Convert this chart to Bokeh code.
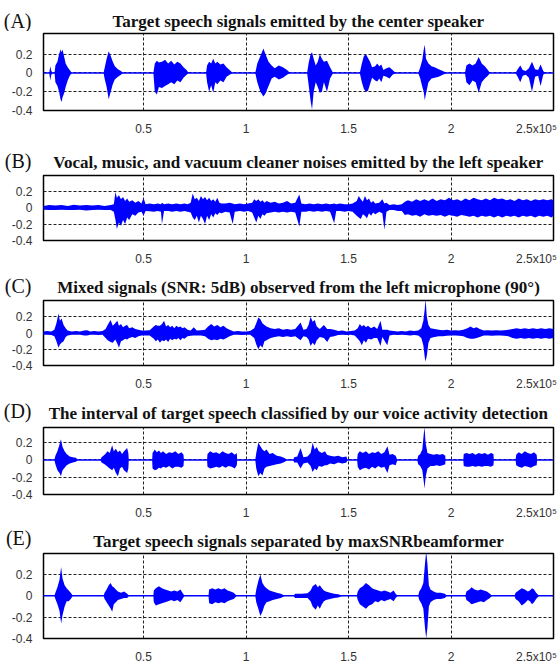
from bokeh.plotting import figure
from bokeh.layouts import column
from bokeh.models import Range1d, FixedTicker, CustomJSTickFormatter
from bokeh.core.properties import value
from bokeh.embed import file_html
from bokeh.resources import INLINE

# ---------------- data (x in units of 1e5 samples) ----------------
x_ticks = [0.5, 1, 1.5, 2]
y_ticks = [-0.4, -0.2, 0, 0.2]
x_end_label = "2.5x10\u2075"
baseline_x = [0.0, 2.5]
baseline_y = [0.0, 0.0]

panel_letters = ["(A)", "(B)", "(C)", "(D)", "(E)"]
panel_titles = [
    "Target speech signals emitted by the center speaker",
    "Vocal, music, and vacuum cleaner noises emitted by the left speaker",
    "Mixed signals (SNR: 5dB) observed from the left microphone (90\u00b0)",
    "The interval of target speech classified by our voice activity detection",
    "Target speech signals separated by maxSNRbeamformer",
]

# (A) target speech: envelope upper / lower values
A_x = [0.040, 0.045, 0.050, 0.058,
       0.066, 0.070, 0.080, 0.088, 0.095, 0.100, 0.105, 0.112, 0.120, 0.130, 0.140, 0.150,
       0.305, 0.310, 0.320, 0.330, 0.340, 0.350, 0.360, 0.375, 0.390, 0.400,
       0.548, 0.555, 0.565, 0.575, 0.590, 0.605, 0.620, 0.635, 0.650, 0.665, 0.680, 0.695, 0.710, 0.720,
       0.805, 0.810, 0.820, 0.830, 0.840, 0.850, 0.860, 0.875, 0.890, 0.905, 0.920, 0.935,
       1.045, 1.055, 1.070, 1.085, 1.095, 1.110, 1.125, 1.140, 1.160, 1.180, 1.200, 1.215,
       1.298, 1.305, 1.315, 1.322, 1.330, 1.340, 1.350, 1.360, 1.370, 1.380, 1.395, 1.410, 1.425,
       1.555, 1.565, 1.575, 1.585, 1.595, 1.605, 1.615, 1.630, 1.640, 1.650, 1.660, 1.670, 1.685, 1.700, 1.715, 1.730,
       1.840, 1.850, 1.860, 1.867, 1.872, 1.878, 1.890, 1.905, 1.920, 1.940, 1.960, 1.980,
       2.068, 2.075, 2.090, 2.105, 2.120, 2.135, 2.150, 2.165, 2.180, 2.190,
       2.315, 2.325, 2.338, 2.350, 2.365, 2.380, 2.395, 2.410, 2.425, 2.437, 2.450, 2.460]
A_hi = [0, 0.07, 0.02, 0,
        0, 0.08, 0.12, 0.20, 0.25, 0.22, 0.25, 0.18, 0.10, 0.06, 0.03, 0,
        0, 0.05, 0.15, 0.23, 0.18, 0.12, 0.07, 0.04, 0.02, 0,
        0, 0.10, 0.13, 0.11, 0.12, 0.14, 0.10, 0.13, 0.09, 0.12, 0.10, 0.06, 0.03, 0,
        0, 0.08, 0.12, 0.10, 0.15, 0.10, 0.12, 0.09, 0.10, 0.06, 0.03, 0,
        0, 0.10, 0.18, 0.26, 0.20, 0.12, 0.08, 0.05, 0.08, 0.06, 0.03, 0,
        0, 0.10, 0.20, 0.22, 0.15, 0.08, 0.12, 0.20, 0.15, 0.12, 0.13, 0.06, 0,
        0, 0.10, 0.18, 0.20, 0.16, 0.12, 0.06, 0.07, 0.10, 0.07, 0.09, 0.03, 0.05, 0.06, 0.03, 0,
        0, 0.06, 0.14, 0.25, 0.30, 0.15, 0.10, 0.07, 0.06, 0.04, 0.02, 0,
        0, 0.08, 0.10, 0.08, 0.10, 0.17, 0.10, 0.07, 0.03, 0,
        0, 0.04, 0.08, 0.03, 0.02, 0.05, 0.12, 0.04, 0.03, 0.09, 0.02, 0]
A_lo = [0, -0.08, -0.02, 0,
        0, -0.10, -0.14, -0.20, -0.28, -0.31, -0.26, -0.22, -0.15, -0.08, -0.03, 0,
        0, -0.06, -0.15, -0.28, -0.20, -0.12, -0.07, -0.04, -0.02, 0,
        0, -0.20, -0.23, -0.15, -0.16, -0.14, -0.12, -0.10, -0.12, -0.08, -0.10, -0.05, -0.02, 0,
        0, -0.10, -0.20, -0.13, -0.21, -0.10, -0.12, -0.08, -0.10, -0.04, -0.02, 0,
        0, -0.10, -0.20, -0.25, -0.22, -0.14, -0.06, -0.04, -0.07, -0.05, -0.02, 0,
        0, -0.12, -0.30, -0.39, -0.20, -0.10, -0.15, -0.21, -0.20, -0.10, -0.20, -0.06, 0,
        0, -0.10, -0.17, -0.20, -0.19, -0.12, -0.05, -0.08, -0.09, -0.06, -0.10, -0.03, -0.04, -0.06, -0.02, 0,
        0, -0.06, -0.15, -0.20, -0.29, -0.22, -0.10, -0.06, -0.05, -0.04, -0.02, 0,
        0, -0.10, -0.13, -0.08, -0.10, -0.21, -0.10, -0.06, -0.03, 0,
        0, -0.04, -0.10, -0.03, -0.02, -0.05, -0.20, -0.04, -0.03, -0.14, -0.02, 0]

# (B) noise from left speaker
B_x = [0.012, 0.040, 0.070, 0.100, 0.130, 0.160, 0.190, 0.220, 0.250, 0.280,
       0.310, 0.340, 0.355, 0.363, 0.370, 0.380, 0.390, 0.400, 0.410, 0.420,
       0.430, 0.445, 0.460, 0.475, 0.490, 0.500, 0.510, 0.530, 0.550, 0.570,
       0.585, 0.590, 0.600, 0.620, 0.640, 0.660, 0.680, 0.700, 0.715, 0.730,
       0.740, 0.750, 0.760, 0.770, 0.780, 0.790, 0.800, 0.810, 0.820, 0.830,
       0.840, 0.850, 0.860, 0.870, 0.880, 0.900, 0.920, 0.935, 0.945, 0.970,
       0.990, 1.010, 1.030, 1.040, 1.050, 1.060, 1.070, 1.080, 1.090, 1.100,
       1.120, 1.140, 1.160, 1.180, 1.200, 1.220, 1.240, 1.260, 1.270, 1.290,
       1.310, 1.330, 1.350, 1.370, 1.390, 1.410, 1.430, 1.440, 1.460, 1.480,
       1.500, 1.520, 1.540, 1.550, 1.560, 1.570, 1.580, 1.590, 1.600, 1.610,
       1.620, 1.630, 1.650, 1.665, 1.675, 1.685, 1.700, 1.720, 1.740, 1.760,
       1.775, 1.790, 1.810, 1.830, 1.850, 1.870, 1.890, 1.910, 1.930, 1.950,
       1.970, 1.990, 2.010, 2.030, 2.050, 2.070, 2.090, 2.110, 2.130, 2.150,
       2.170, 2.190, 2.210, 2.230, 2.250, 2.270, 2.290, 2.310, 2.330, 2.350,
       2.370, 2.390, 2.410, 2.430, 2.450, 2.470, 2.490, 2.500]
B_hi = [0.020, 0.030, 0.025, 0.030, 0.020, 0.035, 0.025, 0.030, 0.025, 0.030,
        0.020, 0.030, 0.040, 0.190, 0.120, 0.150, 0.100, 0.130, 0.080, 0.110,
        0.070, 0.090, 0.060, 0.080, 0.050, 0.120, 0.040, 0.050, 0.040, 0.050,
        0.040, 0.060, 0.040, 0.050, 0.040, 0.050, 0.040, 0.050, 0.040, 0.060,
        0.170, 0.100, 0.120, 0.080, 0.140, 0.100, 0.130, 0.090, 0.120, 0.080,
        0.100, 0.070, 0.120, 0.060, 0.050, 0.050, 0.060, 0.050, 0.040, 0.050,
        0.040, 0.050, 0.060, 0.100, 0.080, 0.100, 0.070, 0.090, 0.060, 0.080,
        0.060, 0.070, 0.050, 0.060, 0.080, 0.050, 0.060, 0.160, 0.050, 0.040,
        0.050, 0.040, 0.050, 0.040, 0.050, 0.040, 0.050, 0.040, 0.050, 0.040,
        0.040, 0.050, 0.080, 0.140, 0.100, 0.070, 0.140, 0.090, 0.110, 0.060,
        0.080, 0.050, 0.060, 0.100, 0.050, 0.060, 0.030, 0.040, 0.030, 0.040,
        0.070, 0.090, 0.070, 0.100, 0.080, 0.100, 0.080, 0.110, 0.080, 0.100,
        0.090, 0.120, 0.090, 0.100, 0.080, 0.110, 0.090, 0.120, 0.100, 0.090,
        0.110, 0.090, 0.120, 0.100, 0.110, 0.090, 0.100, 0.080, 0.110, 0.090,
        0.100, 0.080, 0.100, 0.090, 0.100, 0.090, 0.100, 0.090]
B_lo = [-0.025, -0.030, -0.030, -0.025, -0.030, -0.030, -0.025, -0.035, -0.030, -0.025,
        -0.030, -0.030, -0.050, -0.150, -0.260, -0.180, -0.220, -0.150, -0.200, -0.120,
        -0.150, -0.080, -0.100, -0.060, -0.050, -0.100, -0.040, -0.045, -0.050, -0.040,
        -0.050, -0.200, -0.040, -0.040, -0.050, -0.040, -0.050, -0.040, -0.050, -0.060,
        -0.120, -0.150, -0.100, -0.180, -0.100, -0.140, -0.200, -0.100, -0.150, -0.080,
        -0.120, -0.070, -0.090, -0.060, -0.070, -0.050, -0.060, -0.200, -0.050, -0.040,
        -0.050, -0.040, -0.060, -0.120, -0.180, -0.100, -0.140, -0.080, -0.100, -0.070,
        -0.060, -0.050, -0.060, -0.050, -0.060, -0.050, -0.060, -0.230, -0.050, -0.050,
        -0.040, -0.050, -0.040, -0.050, -0.040, -0.050, -0.190, -0.040, -0.040, -0.050,
        -0.040, -0.050, -0.100, -0.120, -0.140, -0.080, -0.100, -0.130, -0.070, -0.100,
        -0.060, -0.080, -0.050, -0.070, -0.270, -0.050, -0.030, -0.030, -0.040, -0.040,
        -0.090, -0.080, -0.100, -0.090, -0.110, -0.080, -0.100, -0.090, -0.100, -0.090,
        -0.110, -0.090, -0.100, -0.110, -0.090, -0.100, -0.110, -0.100, -0.120, -0.100,
        -0.110, -0.100, -0.120, -0.100, -0.120, -0.100, -0.110, -0.100, -0.120, -0.100,
        -0.110, -0.100, -0.120, -0.100, -0.110, -0.100, -0.120, -0.100]

# (C) mixed signal at the left microphone
C_x = [0.012, 0.030, 0.050, 0.065, 0.075, 0.085, 0.092, 0.100, 0.110, 0.120,
       0.130, 0.150, 0.170, 0.190, 0.210, 0.225, 0.240, 0.260, 0.280, 0.300,
       0.315, 0.325, 0.339, 0.350, 0.362, 0.372, 0.380, 0.390, 0.400, 0.410,
       0.420, 0.430, 0.445, 0.460, 0.475, 0.490, 0.510, 0.530, 0.550, 0.560,
       0.570, 0.580, 0.590, 0.600, 0.610, 0.620, 0.630, 0.640, 0.650, 0.660,
       0.670, 0.680, 0.690, 0.700, 0.715, 0.730, 0.745, 0.760, 0.780, 0.800,
       0.815, 0.830, 0.845, 0.860, 0.875, 0.890, 0.905, 0.920, 0.940, 0.960,
       0.980, 1.000, 1.020, 1.040, 1.050, 1.060, 1.070, 1.080, 1.090, 1.100,
       1.120, 1.140, 1.160, 1.180, 1.200, 1.220, 1.240, 1.266, 1.280, 1.295,
       1.305, 1.315, 1.325, 1.335, 1.345, 1.360, 1.380, 1.396, 1.410, 1.430,
       1.450, 1.470, 1.490, 1.510, 1.530, 1.545, 1.555, 1.565, 1.575, 1.585,
       1.595, 1.610, 1.625, 1.640, 1.656, 1.665, 1.689, 1.700, 1.720, 1.740,
       1.760, 1.780, 1.800, 1.820, 1.840, 1.855, 1.865, 1.872, 1.876, 1.882,
       1.890, 1.900, 1.920, 1.940, 1.960, 1.980, 2.000, 2.020, 2.040, 2.060,
       2.080, 2.095, 2.110, 2.125, 2.140, 2.160, 2.180, 2.200, 2.220, 2.240,
       2.260, 2.280, 2.300, 2.320, 2.340, 2.360, 2.380, 2.400, 2.420, 2.440,
       2.460, 2.480, 2.500]
C_hi = [0.020, 0.025, 0.020, 0.040, 0.120, 0.240, 0.150, 0.180, 0.100, 0.060,
        0.030, 0.020, 0.025, 0.020, 0.030, 0.035, 0.020, 0.025, 0.020, 0.025,
        0.050, 0.100, 0.160, 0.090, 0.120, 0.150, 0.090, 0.110, 0.070, 0.090,
        0.100, 0.060, 0.070, 0.050, 0.040, 0.030, 0.030, 0.035, 0.080, 0.100,
        0.090, 0.090, 0.110, 0.150, 0.080, 0.100, 0.070, 0.090, 0.060, 0.090,
        0.070, 0.080, 0.060, 0.070, 0.040, 0.030, 0.070, 0.030, 0.035, 0.040,
        0.080, 0.110, 0.080, 0.100, 0.070, 0.090, 0.060, 0.040, 0.020, 0.025,
        0.020, 0.020, 0.025, 0.060, 0.120, 0.190, 0.170, 0.120, 0.100, 0.080,
        0.060, 0.050, 0.060, 0.040, 0.050, 0.040, 0.050, 0.130, 0.040, 0.050,
        0.100, 0.200, 0.140, 0.160, 0.080, 0.050, 0.100, 0.050, 0.050, 0.040,
        0.025, 0.030, 0.020, 0.025, 0.030, 0.060, 0.110, 0.080, 0.100, 0.070,
        0.090, 0.060, 0.080, 0.050, 0.150, 0.040, 0.040, 0.030, 0.025, 0.020,
        0.025, 0.020, 0.030, 0.025, 0.030, 0.060, 0.150, 0.300, 0.420, 0.200,
        0.100, 0.060, 0.050, 0.040, 0.035, 0.040, 0.030, 0.035, 0.030, 0.040,
        0.060, 0.080, 0.060, 0.070, 0.050, 0.030, 0.035, 0.030, 0.035, 0.030,
        0.035, 0.040, 0.050, 0.060, 0.050, 0.060, 0.050, 0.060, 0.050, 0.060,
        0.050, 0.060, 0.050]
C_lo = [-0.020, -0.020, -0.025, -0.040, -0.100, -0.180, -0.140, -0.120, -0.100, -0.050,
        -0.030, -0.020, -0.020, -0.020, -0.030, -0.030, -0.020, -0.020, -0.025, -0.020,
        -0.060, -0.090, -0.110, -0.120, -0.080, -0.130, -0.180, -0.100, -0.090, -0.070,
        -0.080, -0.060, -0.050, -0.060, -0.040, -0.030, -0.030, -0.030, -0.070, -0.100,
        -0.080, -0.120, -0.090, -0.100, -0.080, -0.110, -0.070, -0.090, -0.070, -0.080,
        -0.060, -0.090, -0.060, -0.070, -0.040, -0.035, -0.030, -0.030, -0.030, -0.040,
        -0.070, -0.090, -0.080, -0.090, -0.070, -0.080, -0.060, -0.040, -0.020, -0.020,
        -0.025, -0.020, -0.020, -0.060, -0.140, -0.200, -0.150, -0.180, -0.100, -0.090,
        -0.060, -0.050, -0.040, -0.050, -0.040, -0.050, -0.040, -0.090, -0.040, -0.050,
        -0.080, -0.160, -0.120, -0.150, -0.090, -0.050, -0.060, -0.110, -0.050, -0.040,
        -0.025, -0.020, -0.025, -0.020, -0.030, -0.070, -0.100, -0.150, -0.090, -0.120,
        -0.070, -0.080, -0.060, -0.060, -0.160, -0.050, -0.150, -0.030, -0.020, -0.025,
        -0.020, -0.025, -0.030, -0.025, -0.030, -0.060, -0.150, -0.300, -0.350, -0.280,
        -0.120, -0.060, -0.050, -0.040, -0.040, -0.035, -0.030, -0.030, -0.035, -0.040,
        -0.060, -0.070, -0.070, -0.060, -0.050, -0.030, -0.030, -0.035, -0.030, -0.030,
        -0.035, -0.040, -0.060, -0.070, -0.060, -0.070, -0.060, -0.070, -0.060, -0.070,
        -0.060, -0.070, -0.060]

# (D) target speech intervals from voice activity detection
D_x = [0.065, 0.070, 0.080, 0.090, 0.097, 0.105, 0.115, 0.125, 0.140, 0.155, 0.170, 0.180,
       0.290, 0.295, 0.310, 0.325, 0.335, 0.347, 0.355, 0.365, 0.375, 0.385, 0.395, 0.405, 0.420, 0.426, 0.428,
       0.542, 0.544, 0.555, 0.565, 0.575, 0.585, 0.595, 0.610, 0.625, 0.640, 0.655, 0.670, 0.685, 0.695, 0.697,
       0.810, 0.812, 0.825, 0.840, 0.855, 0.870, 0.885, 0.900, 0.915, 0.930, 0.945, 0.955, 0.957,
       1.045, 1.050, 1.060, 1.070, 1.080, 1.090, 1.100, 1.115, 1.130, 1.150, 1.170, 1.190, 1.200,
       1.230, 1.235, 1.250, 1.266, 1.280, 1.300, 1.315, 1.325, 1.335, 1.345, 1.355, 1.370, 1.385, 1.395, 1.410, 1.430, 1.450, 1.470, 1.490, 1.495,
       1.542, 1.545, 1.555, 1.570, 1.585, 1.600, 1.615, 1.630, 1.645, 1.660, 1.675, 1.690, 1.700, 1.715, 1.730, 1.738,
       1.835, 1.840, 1.850, 1.860, 1.867, 1.871, 1.876, 1.885, 1.900, 1.915, 1.930, 1.945, 1.960, 1.972, 1.973,
       2.060, 2.062, 2.075, 2.090, 2.105, 2.120, 2.135, 2.150, 2.165, 2.180, 2.195, 2.207, 2.209,
       2.315, 2.318, 2.330, 2.345, 2.360, 2.375, 2.390, 2.405, 2.418, 2.420]
D_hi = [0, 0.05, 0.10, 0.18, 0.24, 0.15, 0.10, 0.07, 0.04, 0.03, 0.025, 0,
        0, 0.03, 0.06, 0.10, 0.08, 0.17, 0.10, 0.13, 0.09, 0.11, 0.07, 0.10, 0.14, 0.08, 0,
        0, 0.08, 0.12, 0.09, 0.11, 0.08, 0.10, 0.07, 0.09, 0.08, 0.10, 0.07, 0.09, 0.06, 0,
        0, 0.07, 0.10, 0.08, 0.09, 0.07, 0.10, 0.08, 0.07, 0.09, 0.06, 0.08, 0,
        0, 0.08, 0.20, 0.16, 0.12, 0.10, 0.12, 0.07, 0.08, 0.05, 0.04, 0.02, 0,
        0, 0.03, 0.04, 0.14, 0.03, 0.04, 0.08, 0.20, 0.12, 0.15, 0.10, 0.08, 0.10, 0.06, 0.05, 0.04, 0.05, 0.03, 0.04, 0,
        0, 0.07, 0.10, 0.08, 0.10, 0.07, 0.09, 0.08, 0.10, 0.07, 0.09, 0.16, 0.06, 0.07, 0.05, 0,
        0, 0.05, 0.07, 0.12, 0.30, 0.38, 0.20, 0.08, 0.07, 0.06, 0.07, 0.06, 0.07, 0.05, 0,
        0, 0.07, 0.08, 0.07, 0.08, 0.06, 0.08, 0.07, 0.08, 0.06, 0.08, 0.07, 0,
        0, 0.06, 0.09, 0.07, 0.10, 0.08, 0.07, 0.09, 0.06, 0]
D_lo = [0, -0.05, -0.12, -0.15, -0.19, -0.12, -0.09, -0.06, -0.04, -0.03, -0.02, 0,
        0, -0.03, -0.05, -0.08, -0.10, -0.12, -0.09, -0.15, -0.19, -0.10, -0.08, -0.12, -0.15, -0.10, 0,
        0, -0.10, -0.12, -0.11, -0.09, -0.10, -0.08, -0.09, -0.07, -0.10, -0.08, -0.08, -0.09, -0.07, 0,
        0, -0.08, -0.10, -0.09, -0.08, -0.09, -0.07, -0.09, -0.07, -0.08, -0.10, -0.06, 0,
        0, -0.10, -0.19, -0.15, -0.18, -0.10, -0.08, -0.07, -0.06, -0.05, -0.04, -0.02, 0,
        0, -0.03, -0.03, -0.10, -0.04, -0.03, -0.07, -0.14, -0.10, -0.12, -0.07, -0.08, -0.06, -0.06, -0.04, -0.05, -0.03, -0.04, -0.03, 0,
        0, -0.08, -0.12, -0.10, -0.09, -0.11, -0.08, -0.10, -0.07, -0.09, -0.08, -0.15, -0.06, -0.05, -0.06, 0,
        0, -0.05, -0.07, -0.12, -0.25, -0.33, -0.20, -0.10, -0.07, -0.07, -0.06, -0.07, -0.06, -0.05, 0,
        0, -0.07, -0.08, -0.08, -0.07, -0.08, -0.07, -0.08, -0.07, -0.07, -0.08, -0.06, 0,
        0, -0.06, -0.08, -0.09, -0.07, -0.08, -0.09, -0.07, -0.06, 0]

# (E) separated target speech (maxSNR beamformer)
E_x = [0.065, 0.070, 0.080, 0.090, 0.098, 0.105, 0.115, 0.125, 0.135, 0.145, 0.155,
       0.305, 0.310, 0.320, 0.330, 0.340, 0.347, 0.355, 0.365, 0.375, 0.390, 0.405, 0.420, 0.430,
       0.548, 0.550, 0.560, 0.575, 0.590, 0.605, 0.620, 0.635, 0.650, 0.665, 0.680, 0.690, 0.700,
       0.817, 0.820, 0.835, 0.850, 0.865, 0.880, 0.895, 0.910, 0.925, 0.940, 0.955,
       1.045, 1.050, 1.060, 1.070, 1.080, 1.090, 1.100, 1.115, 1.130, 1.150, 1.170, 1.190,
       1.230, 1.240, 1.270, 1.300, 1.315, 1.325, 1.340, 1.350, 1.360, 1.370, 1.380, 1.390, 1.410, 1.430, 1.450, 1.470,
       1.540, 1.545, 1.555, 1.570, 1.585, 1.600, 1.615, 1.630, 1.645, 1.660, 1.675, 1.690, 1.705, 1.720, 1.730, 1.740,
       1.840, 1.845, 1.855, 1.865, 1.873, 1.879, 1.885, 1.892, 1.900, 1.915, 1.930, 1.950, 1.970, 1.980,
       2.070, 2.075, 2.090, 2.100, 2.115, 2.130, 2.145, 2.160, 2.175, 2.190, 2.200,
       2.310, 2.315, 2.330, 2.345, 2.360, 2.375, 2.385, 2.395, 2.405, 2.415, 2.430]
E_hi = [0, 0.03, 0.08, 0.15, 0.27, 0.16, 0.10, 0.07, 0.05, 0.03, 0,
        0, 0.03, 0.06, 0.10, 0.12, 0.09, 0.08, 0.06, 0.04, 0.03, 0.04, 0.02, 0,
        0, 0.05, 0.07, 0.09, 0.07, 0.06, 0.05, 0.04, 0.05, 0.04, 0.06, 0.03, 0,
        0, 0.06, 0.07, 0.06, 0.07, 0.06, 0.07, 0.05, 0.04, 0.03, 0,
        0, 0.06, 0.14, 0.20, 0.12, 0.09, 0.07, 0.05, 0.04, 0.03, 0.02, 0,
        0, 0.02, 0.02, 0.025, 0.05, 0.09, 0.11, 0.08, 0.10, 0.07, 0.05, 0.04, 0.03, 0.02, 0.015, 0,
        0, 0.04, 0.07, 0.09, 0.12, 0.10, 0.07, 0.06, 0.05, 0.04, 0.05, 0.04, 0.03, 0.05, 0.02, 0,
        0, 0.04, 0.07, 0.12, 0.30, 0.42, 0.30, 0.10, 0.06, 0.04, 0.03, 0.03, 0.02, 0,
        0, 0.04, 0.06, 0.08, 0.06, 0.05, 0.06, 0.05, 0.04, 0.02, 0,
        0, 0.03, 0.05, 0.07, 0.06, 0.04, 0.05, 0.07, 0.06, 0.03, 0]
E_lo = [0, -0.03, -0.08, -0.14, -0.26, -0.18, -0.10, -0.05, -0.05, -0.03, 0,
        0, -0.03, -0.06, -0.09, -0.12, -0.15, -0.08, -0.06, -0.04, -0.03, -0.02, -0.02, 0,
        0, -0.06, -0.09, -0.08, -0.07, -0.06, -0.05, -0.04, -0.05, -0.04, -0.06, -0.03, 0,
        0, -0.07, -0.08, -0.06, -0.07, -0.06, -0.07, -0.05, -0.04, -0.03, 0,
        0, -0.06, -0.12, -0.19, -0.15, -0.09, -0.06, -0.05, -0.04, -0.03, -0.02, 0,
        0, -0.02, -0.02, -0.02, -0.05, -0.10, -0.13, -0.09, -0.12, -0.08, -0.05, -0.04, -0.03, -0.02, -0.015, 0,
        0, -0.04, -0.08, -0.10, -0.12, -0.09, -0.08, -0.05, -0.06, -0.04, -0.05, -0.04, -0.03, -0.05, -0.02, 0,
        0, -0.04, -0.07, -0.12, -0.30, -0.40, -0.30, -0.10, -0.06, -0.04, -0.03, -0.03, -0.02, 0,
        0, -0.04, -0.06, -0.08, -0.07, -0.06, -0.05, -0.06, -0.04, -0.02, 0,
        0, -0.03, -0.05, -0.09, -0.07, -0.04, -0.05, -0.08, -0.06, -0.03, 0]

series = [(A_x, A_hi, A_lo), (B_x, B_hi, B_lo), (C_x, C_hi, C_lo),
          (D_x, D_hi, D_lo), (E_x, E_hi, E_lo)]
for name, (sx, sh, sl) in zip("ABCDE", series):
    assert len(sx) == len(sh) == len(sl), (name, len(sx), len(sh), len(sl))

# ---------------- layout (pixels) ----------------
# header height, letter y, title y (px from header top),
# plot height, plot bottom border, y-range top
layout_spec = [
    (31, 20, 21, 107, 20, 0.42),
    (35, 22, 24, 95, 20, 0.39),
    (30, 17, 19, 95, 20, 0.40),
    (32, 17, 20, 97, 20, 0.376),
    (29, 15, 19, 115, 19, 0.397),
]
X0, X1 = 0.012, 2.5
END_LABEL_POS = 2.417     # where the exponent label is centred (MATLAB style)
FRAME_LEFT, FRAME_RIGHT = 43, 7
PAGE_W = 560
TITLE_CX = 298
WAVE = "#0000ff"


def make_header(letter, title, spec):
    hh, ly, ty = spec[0], spec[1], spec[2]
    # header frame spans the same pixels as the plot frames below it;
    # its x coordinates are page pixels, its y coordinates pixels from its top
    h = figure(width=PAGE_W, height=hh, output_backend="svg", toolbar_location=None,
               title=None, x_range=Range1d(FRAME_LEFT, PAGE_W - FRAME_RIGHT),
               y_range=Range1d(hh, 0), x_axis_location=None, y_axis_location="left",
               min_border_left=FRAME_LEFT, min_border_right=FRAME_RIGHT,
               min_border_top=0, min_border_bottom=0)
    h.grid.visible = False
    h.outline_line_color = None
    h.border_fill_color = "white"
    h.background_fill_color = "white"
    ax = h.yaxis[0]
    ax.ticker = FixedTicker(ticks=[ly])
    ax.formatter = CustomJSTickFormatter(args=dict(letter=letter), code="return letter;")
    ax.axis_line_color = None
    ax.major_tick_line_color = None
    ax.minor_tick_line_color = None
    ax.major_label_standoff = 6
    ax.major_label_text_font = "Liberation Serif"
    ax.major_label_text_font_size = "20px"
    ax.major_label_text_color = "#111111"
    h.text(x=[TITLE_CX], y=[ty], text=[title], text_font=value("Liberation Serif"),
           text_font_size="17px", text_font_style="bold", text_color="#111111",
           text_baseline="middle", text_align="center")
    return h


def make_panel(data, spec):
    xs, hi, lo = data
    ph, pbot, ytop = spec[3], spec[4], spec[5]
    p = figure(width=PAGE_W, height=ph, output_backend="svg", toolbar_location=None,
               title=None, x_range=Range1d(X0, X1), y_range=Range1d(-0.4, ytop),
               min_border_left=FRAME_LEFT, min_border_right=FRAME_RIGHT,
               min_border_top=2, min_border_bottom=pbot)
    p.outline_line_color = "black"
    p.outline_line_width = 1.5
    p.outline_line_alpha = 1.0
    p.border_fill_color = "white"
    p.background_fill_color = "white"
    for ax in (p.xaxis[0], p.yaxis[0]):
        ax.axis_line_color = None
        ax.major_tick_line_color = None
        ax.minor_tick_line_color = None
        ax.major_label_text_font = "Liberation Sans"
        ax.major_label_text_font_size = "12px"
        ax.major_label_text_color = "#333333"
        ax.major_label_standoff = 5
    p.xaxis[0].ticker = FixedTicker(ticks=x_ticks + [END_LABEL_POS])
    p.xaxis[0].formatter = CustomJSTickFormatter(
        args=dict(end_label=x_end_label, end_pos=END_LABEL_POS),
        code="return Math.abs(tick - end_pos) < 1e-6 ? end_label : String(tick);")
    p.yaxis[0].ticker = FixedTicker(ticks=y_ticks)
    p.yaxis[0].formatter = CustomJSTickFormatter(code="return String(tick);")
    p.xgrid[0].ticker = FixedTicker(ticks=x_ticks)
    for g in p.grid:
        g.grid_line_color = "#222222"
        g.grid_line_dash = "3 2"
        g.grid_line_width = 1
    p.line(baseline_x, baseline_y, line_color=WAVE, line_width=1.5)
    p.varea(x=xs, y1=lo, y2=hi, fill_color=WAVE, fill_alpha=1.0)
    return p


children = []
for letter, title, data, spec in zip(panel_letters, panel_titles, series, layout_spec):
    children.append(make_header(letter, title, spec))
    children.append(make_panel(data, spec))

page = column(*children, spacing=0)

open("out.html", "w").write(file_html(page, INLINE))
